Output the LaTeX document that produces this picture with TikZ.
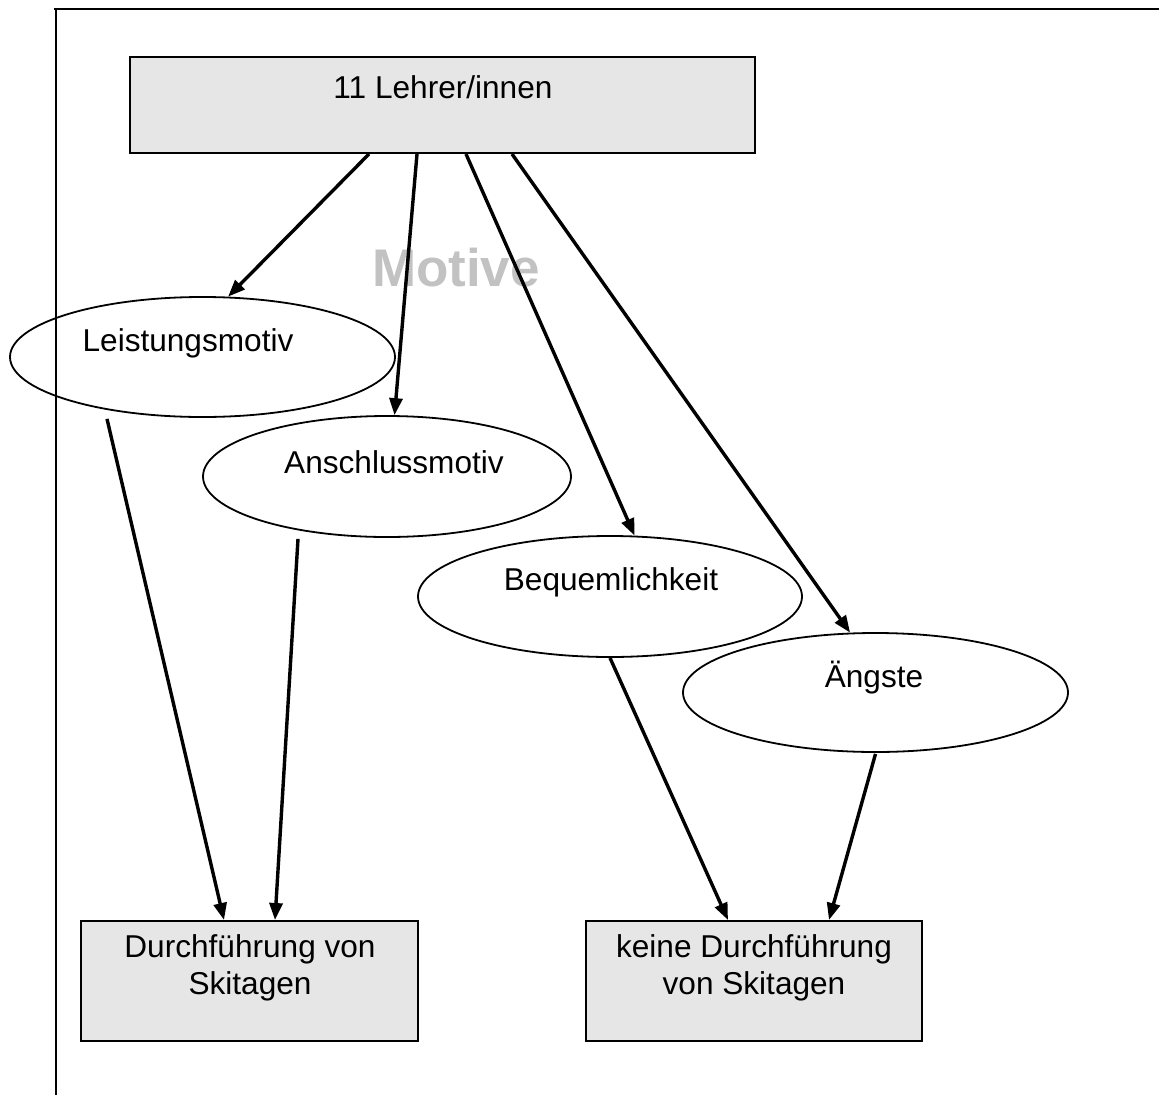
\documentclass[tikz,border=0pt]{standalone}
\usepackage{fontspec}
\setmainfont{Liberation Sans}
\usetikzlibrary{shapes.geometric,arrows.meta,calc}
\definecolor{boxgray}{HTML}{E6E6E6}
\definecolor{motivegray}{HTML}{C2C2C2}
\tikzset{
  greybox/.style={draw, line width=2pt, fill=boxgray, rectangle, inner sep=0pt},
  oval/.style={draw, line width=1.8pt, ellipse, inner sep=0pt},
  label text/.style={font=\fontsize{31.6}{37}\selectfont, inner sep=0pt, align=center},
  arr/.style={line width=3.4pt, -{Triangle[length=17pt,width=13pt]}},
}
\begin{document}
\begin{tikzpicture}[x=1pt,y=-1pt]
\useasboundingbox (0,0) rectangle (1159,1095);
% frame
\coordinate (ftl) at (54,9);
\coordinate (ftr) at (1159,9);
\coordinate (flt) at (56,9);
\coordinate (fbl) at (56,1095);
\draw[line width=2.6pt] (ftl) -- (ftr);
\draw[line width=2pt] (flt) -- (fbl);
% watermark label
\node[font=\bfseries\fontsize{53}{60}\selectfont, text=motivegray, inner sep=0pt] (motive) at (456,268) {Motive};
% top box
\node[greybox, minimum width=625pt, minimum height=96pt] (top) at (442.5,105) {};
\node[label text] (toptext) at (443,87) {11 Lehrer/innen};
% ellipses
\node[oval, minimum width=385pt, minimum height=120pt] (lei) at (202.5,357) {};
\node[label text] (leitext) at (188,343) {Leistungsmotiv};
\node[oval, minimum width=368pt, minimum height=121pt] (ans) at (387,476.5) {};
\node[label text] (anstext) at (394,462) {Anschlussmotiv};
\node[oval, minimum width=384pt, minimum height=121pt] (beq) at (610,596.5) {};
\node[label text] (beqtext) at (611,582) {Bequemlichkeit};
\node[oval, minimum width=385pt, minimum height=119pt] (aen) at (875.5,692.5) {};
\node[label text] (aentext) at (874,678) {Ängste};
% bottom boxes
\node[greybox, minimum width=337pt, minimum height=120pt] (dl) at (249.5,981) {};
\node[label text] (dltext) at (250,968) {Durchführung von\\Skitagen};
\node[greybox, minimum width=336pt, minimum height=120pt] (dr) at (754,981) {};
\node[label text] (drtext) at (754,968) {keine Durchführung\\von Skitagen};
% arrows from top box
\draw[arr] ($(top.south west)+(240,0)$) -- (lei.67.6);
\draw[arr] ($(top.south west)+(288,0)$) -- (ans.83.5);
\draw[arr] ($(top.south west)+(337,0)$) -- (beq.68.7);
\draw[arr] ($(top.south west)+(383,0)$) -- (aen.113.6);
% arrows to bottom boxes
\draw[arr] ($(lei.south)+(-95.5,1)$) -- ($(dl.north)+(-25.5,0)$);
\draw[arr] ($(ans.south)+(-89,1)$) -- ($(dl.north)+(25.5,0)$);
\draw[arr] (beq.south) -- ($(dr.north)+(-26,0)$);
\draw[arr] ($(aen.south)+(0,1)$) -- ($(dr.north)+(75,0)$);
\end{tikzpicture}
\end{document}
